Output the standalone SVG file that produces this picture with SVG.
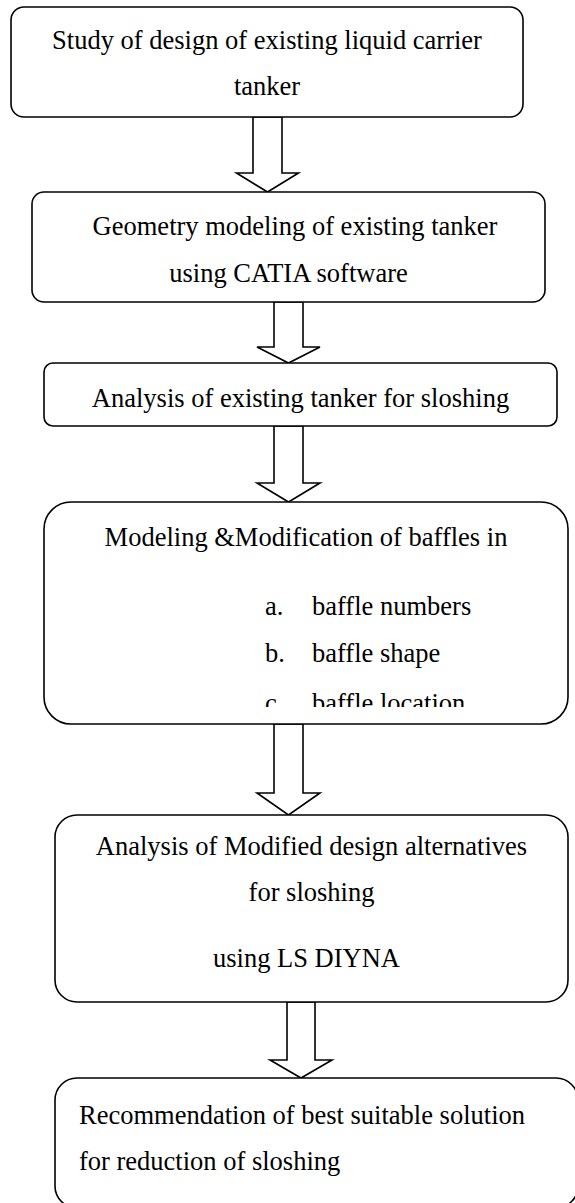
<svg xmlns="http://www.w3.org/2000/svg" width="575" height="1203" viewBox="0 0 575 1203">
<style>
.box{fill:#fff;stroke:#000;stroke-width:1.6}
.arr{fill:#fff;stroke:#000;stroke-width:1.6;stroke-linejoin:miter}
text{font-family:"Liberation Serif","Times New Roman",serif;font-size:26.5px;fill:#000}
.c{text-anchor:middle}
</style>
<defs>
<clipPath id="clipC"><rect x="0" y="560" width="575" height="147"/></clipPath>
</defs>
<rect width="575" height="1203" fill="#fff"/>
<g id="connectors">
<polygon class="arr" points="253,117 282,117 282,173 298.5,173 267.5,192 236.5,173 253,173"/>
<polygon class="arr" points="274,302 303,302 303,347 320,347 288.5,363 257,347 274,347"/>
<polygon class="arr" points="274,426 303,426 303,483 320,483 288.5,502 257,483 274,483"/>
<polygon class="arr" points="274,724 303,724 303,793 320,793 288.5,815 257,793 274,793"/>
<polygon class="arr" points="287,1002 315,1002 315,1060 332,1060 301,1078 270,1060 287,1060"/>
</g>
<g id="node1">
<rect class="box" x="11" y="7" width="512" height="110" rx="13"/>
<text class="c" x="267" y="49">Study of design of existing liquid carrier</text>
<text class="c" x="267" y="95">tanker</text>
</g>
<g id="node2">
<rect class="box" x="32" y="192" width="513" height="110" rx="12"/>
<text class="c" x="295" y="235">Geometry modeling of existing tanker</text>
<text class="c" x="288.5" y="282">using CATIA software</text>
</g>
<g id="node3">
<rect class="box" x="44" y="363" width="513" height="63" rx="9"/>
<text class="c" x="300.5" y="407">Analysis of existing tanker for sloshing</text>
</g>
<g id="node4">
<rect class="box" x="44" y="502" width="524" height="222" rx="27"/>
<text class="c" x="306" y="546">Modeling &amp;Modification of baffles in</text>
<text x="265" y="615">a.</text>
<text x="312" y="615">baffle numbers</text>
<text x="265" y="662">b.</text>
<text x="312" y="662">baffle shape</text>
<g clip-path="url(#clipC)">
<text x="265" y="712">c.</text>
<text x="312" y="712">baffle location</text>
</g>
</g>
<g id="node5">
<rect class="box" x="55" y="815" width="513" height="187" rx="22"/>
<text class="c" x="311.5" y="855">Analysis of Modified design alternatives</text>
<text class="c" x="311.5" y="901">for sloshing</text>
<text class="c" x="306.5" y="967">using LS DIYNA</text>
</g>
<g id="node6">
<rect class="box" x="55" y="1078" width="523" height="130" rx="22"/>
<text x="79" y="1124">Recommendation of best suitable solution</text>
<text x="79" y="1170">for reduction of sloshing</text>
</g>
</svg>
